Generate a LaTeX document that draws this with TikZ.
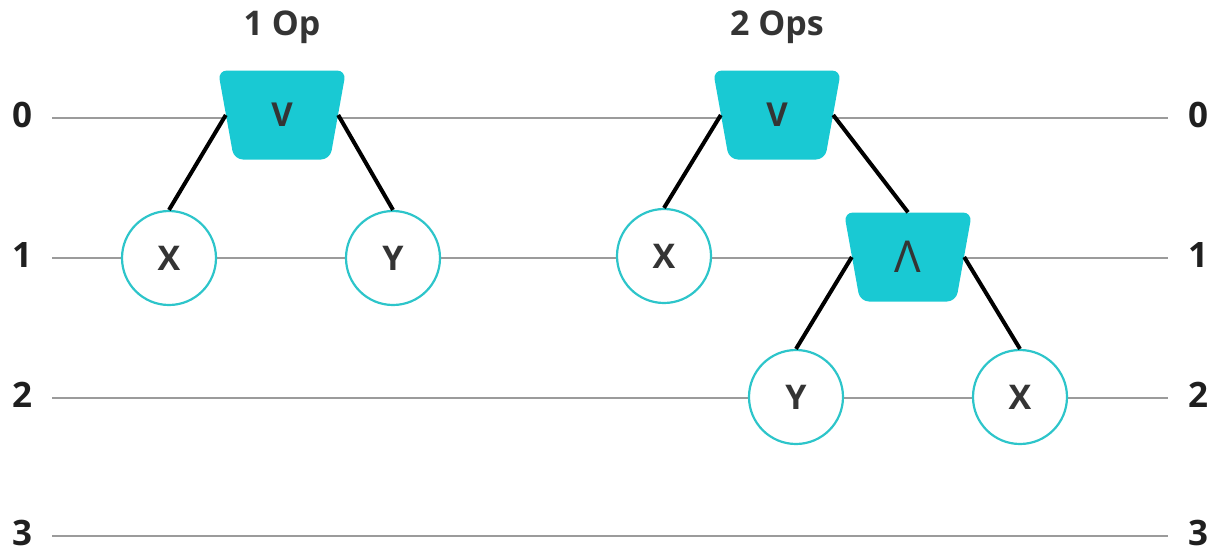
\documentclass[tikz,border=0pt]{standalone}
\usepackage{fontspec}
\setmainfont{Open Sans}

\definecolor{opcyan}{RGB}{25,201,211}
\definecolor{leafcyan}{RGB}{45,197,202}
\definecolor{levelgray}{RGB}{155,155,155}
\definecolor{txtgray}{RGB}{52,52,52}

\tikzset{
  op/.style={minimum width=128pt, minimum height=89pt, inner sep=0pt,
    text=txtgray, font=\fontsize{33}{33}\selectfont,
    path picture={\fill[opcyan, rounded corners=9pt]
      (path picture bounding box.north west) --
      (path picture bounding box.north east) --
      ([xshift=-16pt]path picture bounding box.south east) --
      ([xshift=16pt]path picture bounding box.south west) -- cycle;}},
  leaf/.style={circle, minimum size=94pt, inner sep=0pt, draw=leafcyan,
    line width=2.2pt, fill=white, text=txtgray,
    font=\bfseries\fontsize{34}{34}\selectfont},
  lvl/.style={inner xsep=20pt, inner ysep=0pt, text=black!88,
    font=\bfseries\fontsize{35}{35}\selectfont},
  title/.style={text=txtgray, font=\bfseries\fontsize{34}{34}\selectfont},
  level/.style={draw=levelgray, line width=2pt},
  edge/.style={draw=black, line width=4pt},
}

\begin{document}
\begin{tikzpicture}[x=1pt,y=-1pt]
\useasboundingbox (0,0) rectangle (1216,550);
% depth levels
\foreach \l/\y in {0/115,1/255,2/395,3/533} {
  \node[lvl] (l\l) at (22,\y) {\l};
  \node[lvl] (r\l) at (1198,\y) {\l};
  \draw[level] ([yshift=-3pt]l\l.east) -- ([yshift=-3pt]r\l.west);
}
% 1 Op
\node[title] (t1) at (282,27) {1 Op};
\node[op] (v1) at (282,115) {\bfseries V};
\node[leaf] (x1) at (169,258) {X};
\node[leaf] (y1) at (393,258) {Y};
\draw[edge] ([xshift=8pt]v1.west) -- (x1.north);
\draw[edge] ([xshift=-8pt]v1.east) -- (y1.north);
% 2 Ops
\node[title] (t2) at (777,27) {2 Ops};
\node[op] (v2) at (777,115) {\bfseries V};
\node[leaf] (x2) at (664,256) {X};
\node[op] (a2) at (908,257) {\fontsize{44}{44}\selectfont Λ};
\node[leaf] (y2) at (796,397) {Y};
\node[leaf] (x3) at (1020,397) {X};
\draw[edge] ([xshift=8pt]v2.west) -- (x2.north);
\draw[edge] ([xshift=-8pt]v2.east) -- (a2.north);
\draw[edge] ([xshift=8pt]a2.west) -- (y2.north);
\draw[edge] ([xshift=-8pt]a2.east) -- (x3.north);
\end{tikzpicture}
\end{document}
